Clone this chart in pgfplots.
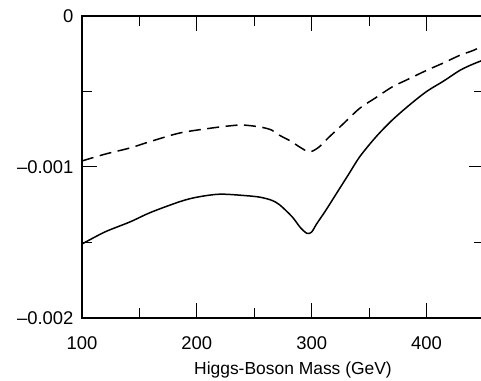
\documentclass[border=0pt]{standalone}
\usepackage{pgfplots}
\pgfplotsset{compat=1.18}
\usepackage{fontspec}
\setmainfont{Liberation Sans}
\begin{document}
\begin{tikzpicture}
\useasboundingbox (-82bp,-63bp) rectangle (399bp,318bp);
\begin{axis}[
  at={(0,0)}, anchor=south west,
  scale only axis, width=402bp, height=302bp,
  xmin=100, xmax=450, ymin=-0.002, ymax=0,
  xtick={100,200,300,400}, minor xtick={150,250,350},
  ytick={-0.002,-0.001,0}, minor ytick={-0.0015,-0.0005},
  yticklabels={--0.002,--0.001,0},
  xticklabels={100,200,300,400},
  scaled y ticks=false,
  tick align=inside,
  major tick length=15bp, minor tick length=10bp,
  every tick/.style={line width=1bp, black},
  axis line style={line width=1.2bp},
  tick label style={font=\fontsize{18.5}{20}\selectfont},
  xticklabel style={yshift=-15bp},
  yticklabel style={xshift=-5bp},
  xlabel={Higgs-Boson Mass (GeV)},
  xlabel style={font=\fontsize{17.5}{20}\selectfont, yshift=-5bp, xshift=10bp},
]
\addplot[black, line width=1.5bp, smooth, tension=0.5] coordinates {
(100,-0.00151) (120,-0.00143) (141.7,-0.001364) (160,-0.0013) (185,-0.00123)
(200,-0.0012) (220,-0.00118) (243,-0.00119) (255,-0.0012) (265,-0.00122)
(272,-0.00125) (283,-0.00133) (290,-0.0014) (296,-0.00144) (300,-0.00143)
(304,-0.00138) (312,-0.00129) (322,-0.00117) (332,-0.00105) (342,-0.00093)
(356,-0.0008) (370,-0.00069) (385,-0.00059) (400,-0.0005) (415,-0.00043)
(429,-0.00036) (440,-0.00032) (450,-0.00029)
};
\addplot[black, line width=1.5bp, smooth, tension=0.5, dash pattern=on 12bp off 6.5bp] coordinates {
(100,-0.00096) (120,-0.000915) (141.7,-0.000874) (160,-0.00083) (185,-0.000775)
(210,-0.000745) (228,-0.000728) (240,-0.000722) (255,-0.000735) (265,-0.000755)
(272,-0.00079) (282,-0.00083) (290,-0.00087) (298,-0.0009) (306,-0.00087)
(314,-0.00081) (328,-0.00071) (342,-0.00061) (356,-0.00054) (370,-0.00047)
(385,-0.000415) (400,-0.00036) (415,-0.00031) (429,-0.00026) (440,-0.00023)
(450,-0.000195)
};
\end{axis}
\end{tikzpicture}
\end{document}
